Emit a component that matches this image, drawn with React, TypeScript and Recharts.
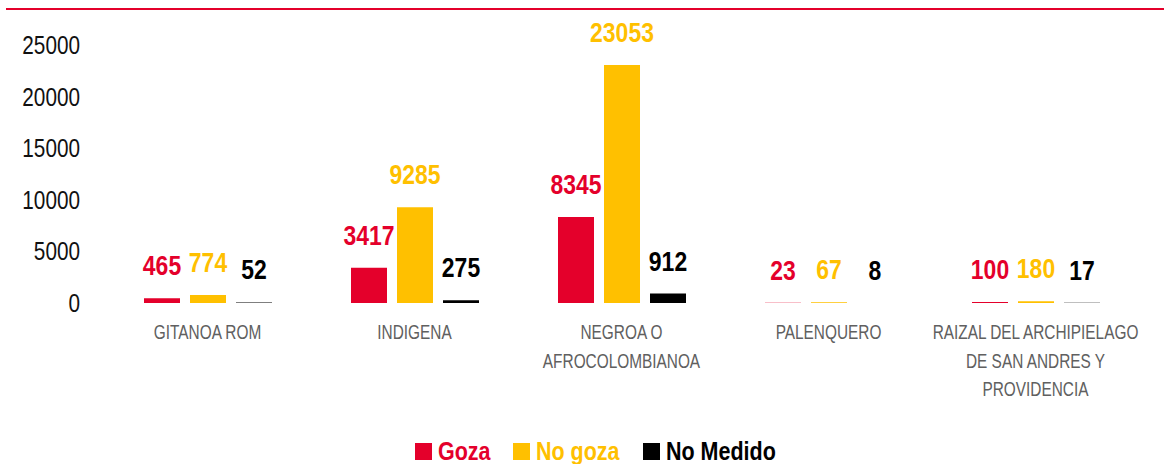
import React from "react";
import { BarChart, Bar, XAxis, YAxis, LabelList, Legend } from "recharts";

const categories = [
  "GITANOA ROM",
  "INDIGENA",
  "NEGROA O AFROCOLOMBIANOA",
  "PALENQUERO",
  "RAIZAL DEL ARCHIPIELAGO DE SAN ANDRES Y PROVIDENCIA",
];
const categoryLines = [
  ["GITANOA ROM"],
  ["INDIGENA"],
  ["NEGROA O", "AFROCOLOMBIANOA"],
  ["PALENQUERO"],
  ["RAIZAL DEL ARCHIPIELAGO", "DE SAN ANDRES Y", "PROVIDENCIA"],
];
const goza = [465, 3417, 8345, 23, 100];
const noGoza = [774, 9285, 23053, 67, 180];
const noMedido = [52, 275, 912, 8, 17];
const yTicks = [0, 5000, 10000, 15000, 20000, 25000];

const seriesNames = ["Goza", "No goza", "No Medido"];
const RED = "#E4002B";
const YELLOW = "#FFC000";
const BLACK = "#000000";
const colors = [RED, YELLOW, BLACK];

const FONT = "'Liberation Sans', Arial, sans-serif";

const data = categories.map((c, i) => ({
  name: c,
  goza: goza[i],
  noGoza: noGoza[i],
  noMedido: noMedido[i],
}));

const NText = (props: any) => {
  const { x, y, sx = 0.82, anchor = "middle", children, ...rest } = props;
  return (
    <text transform={`translate(${x} ${y}) scale(${sx} 1)`} x={0} y={0} textAnchor={anchor} fontFamily={FONT} {...rest}>
      {children}
    </text>
  );
};

const CategoryTick = (props: any) => {
  const { x, y, index } = props;
  const lines = categoryLines[index] || [];
  return (
    <g>
      {lines.map((l: string, i: number) => (
        <NText key={i} x={x} y={y + 36 + i * 28.5} sx={0.77} fill="#606060" fontSize={20}>
          {l}
        </NText>
      ))}
    </g>
  );
};

const YTick = (props: any) => {
  const { x, y, payload } = props;
  return (
    <NText x={x} y={y + 9} sx={0.83} anchor="end" fill="#111" fontSize={25}>
      {payload.value}
    </NText>
  );
};

const makeLabel = (color: string) => (props: any) => {
  const { x, y, width, value } = props;
  return (
    <NText x={x + width / 2} y={y - 23} sx={0.85} fill={color} fontWeight="bold" fontSize={27}>
      {value}
    </NText>
  );
};

const legendSquares = [415, 513, 643];
const LegendContent = () => (
  <svg width={1164} height={30} style={{ display: "block" }}>
    {seriesNames.map((n, i) => (
      <g key={n}>
        <rect x={legendSquares[i]} y={9} width={17} height={17} fill={colors[i]} />
        <NText x={legendSquares[i] + 23} y={26} sx={0.86} anchor="start" fill={colors[i]} fontWeight="bold" fontSize={25}>
          {n}
        </NText>
      </g>
    ))}
  </svg>
);

export default function App() {
  return (
    <div style={{ position: "absolute", left: 0, top: 0, width: 1164, height: 464, background: "#fff" }}>
      <div style={{ position: "absolute", left: 6, top: 8, width: 1158, height: 1.5, background: RED }} />
      <BarChart
        width={1164}
        height={464}
        data={data}
        margin={{ top: 45, right: 25, left: 0, bottom: 0 }}
        barGap={10}
        barSize={36}
      >
        <XAxis
          dataKey="name"
          axisLine={false}
          tickLine={false}
          tickSize={0}
          tickMargin={0}
          interval={0}
          height={131}
          tick={<CategoryTick />}
        />
        <YAxis
          domain={[0, 25000]}
          ticks={yTicks}
          axisLine={false}
          tickLine={false}
          tickSize={0}
          tickMargin={24}
          width={104}
          interval={0}
          tick={<YTick />}
        />
        <Legend verticalAlign="bottom" height={30} content={<LegendContent />} />
        <Bar dataKey="goza" name={seriesNames[0]} fill={RED} isAnimationActive={false}>
          <LabelList dataKey="goza" content={makeLabel(RED)} />
        </Bar>
        <Bar dataKey="noGoza" name={seriesNames[1]} fill={YELLOW} isAnimationActive={false}>
          <LabelList dataKey="noGoza" content={makeLabel(YELLOW)} />
        </Bar>
        <Bar dataKey="noMedido" name={seriesNames[2]} fill={BLACK} isAnimationActive={false}>
          <LabelList dataKey="noMedido" content={makeLabel(BLACK)} />
        </Bar>
      </BarChart>
    </div>
  );
}
